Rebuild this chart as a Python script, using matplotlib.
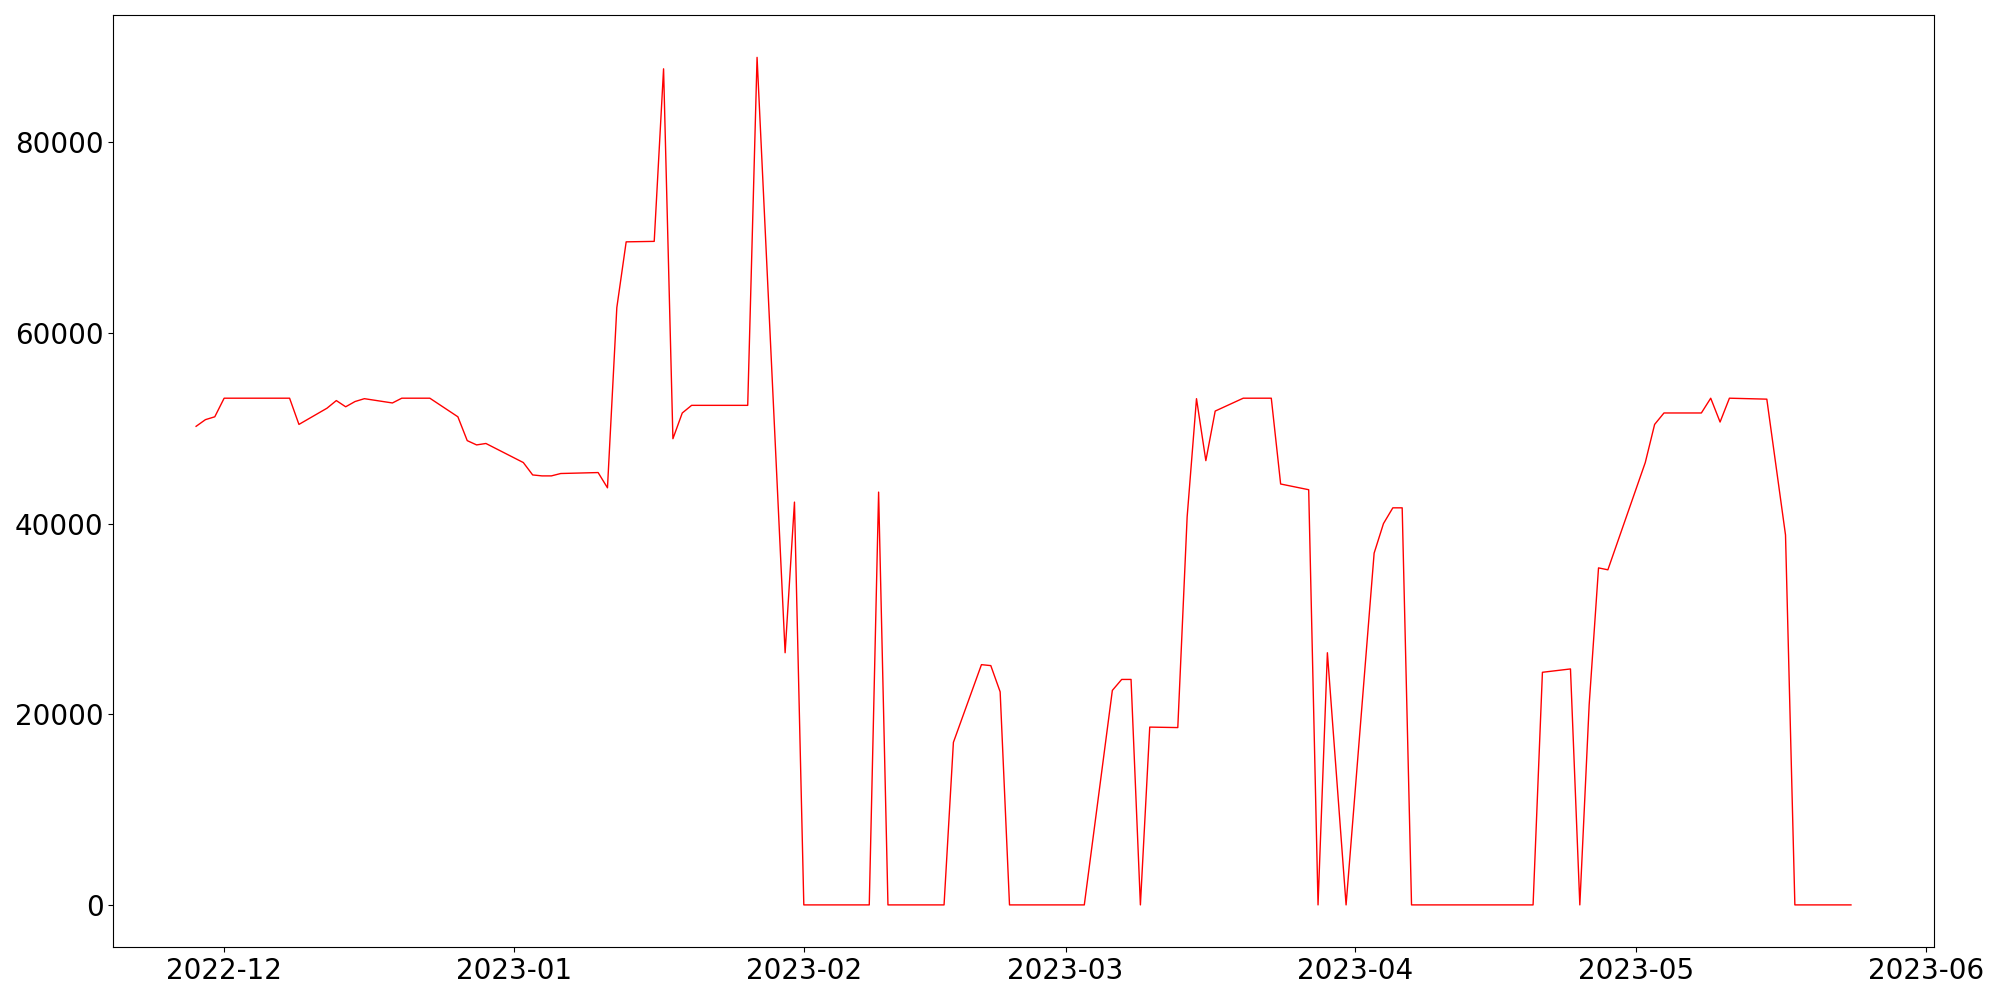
import numpy as np
import pandas as pd
import matplotlib
matplotlib.use("Agg")
import matplotlib.pyplot as plt

# === dados (datas com mudança de valor) ===
datas = [
    "2022-11-28", "2022-11-29", "2022-11-30", "2022-12-01", "2022-12-08",
    "2022-12-09", "2022-12-12", "2022-12-13", "2022-12-14", "2022-12-15",
    "2022-12-16", "2022-12-19", "2022-12-20", "2022-12-23", "2022-12-26",
    "2022-12-27", "2022-12-28", "2022-12-29", "2023-01-02", "2023-01-03",
    "2023-01-04", "2023-01-05", "2023-01-06", "2023-01-10", "2023-01-11",
    "2023-01-12", "2023-01-13", "2023-01-16", "2023-01-17", "2023-01-18",
    "2023-01-19", "2023-01-20", "2023-01-26", "2023-01-27", "2023-01-30",
    "2023-01-31", "2023-02-01", "2023-02-08", "2023-02-09", "2023-02-10",
    "2023-02-16", "2023-02-17", "2023-02-20", "2023-02-21", "2023-02-22",
    "2023-02-23", "2023-03-03", "2023-03-06", "2023-03-07", "2023-03-08",
    "2023-03-09", "2023-03-10", "2023-03-13", "2023-03-14", "2023-03-15",
    "2023-03-16", "2023-03-17", "2023-03-20", "2023-03-23", "2023-03-24",
    "2023-03-27", "2023-03-28", "2023-03-29", "2023-03-31", "2023-04-03",
    "2023-04-04", "2023-04-05", "2023-04-06", "2023-04-07", "2023-04-20",
    "2023-04-21", "2023-04-24", "2023-04-25", "2023-04-26", "2023-04-27",
    "2023-04-28", "2023-05-02", "2023-05-03", "2023-05-04", "2023-05-08",
    "2023-05-09", "2023-05-10", "2023-05-11", "2023-05-15", "2023-05-17",
    "2023-05-18", "2023-05-24",
]
valores = [
    50200, 50900, 51200, 53150, 53150,
    50400, 52100, 52900, 52250, 52800,
    53100, 52650, 53150, 53150, 51200,
    48700, 48250, 48400, 46400, 45100,
    45000, 45000, 45250, 45350, 43750,
    62650, 69550, 69600, 87700, 48900,
    51600, 52400, 52400, 88900, 26450,
    42250, 0, 0, 43300, 0,
    0, 17050, 25200, 25100, 22350,
    0, 0, 22500, 23650, 23650,
    0, 18650, 18600, 40700, 53100,
    46600, 51800, 53150, 53150, 44150,
    43550, 0, 26450, 0, 36900,
    40000, 41650, 41650, 0, 0,
    24400, 24750, 0, 21000, 35350,
    35150, 46400, 50400, 51600, 51600,
    53150, 50650, 53150, 53050, 38800,
    0, 0,
]

datas = pd.to_datetime(datas)

fig, ax = plt.subplots(figsize=(20, 10), dpi=100)
ax.plot(datas, valores, color='red', linewidth=1)
ax.tick_params(axis='both', labelsize=20)
plt.tight_layout()
plt.savefig("out.png")
